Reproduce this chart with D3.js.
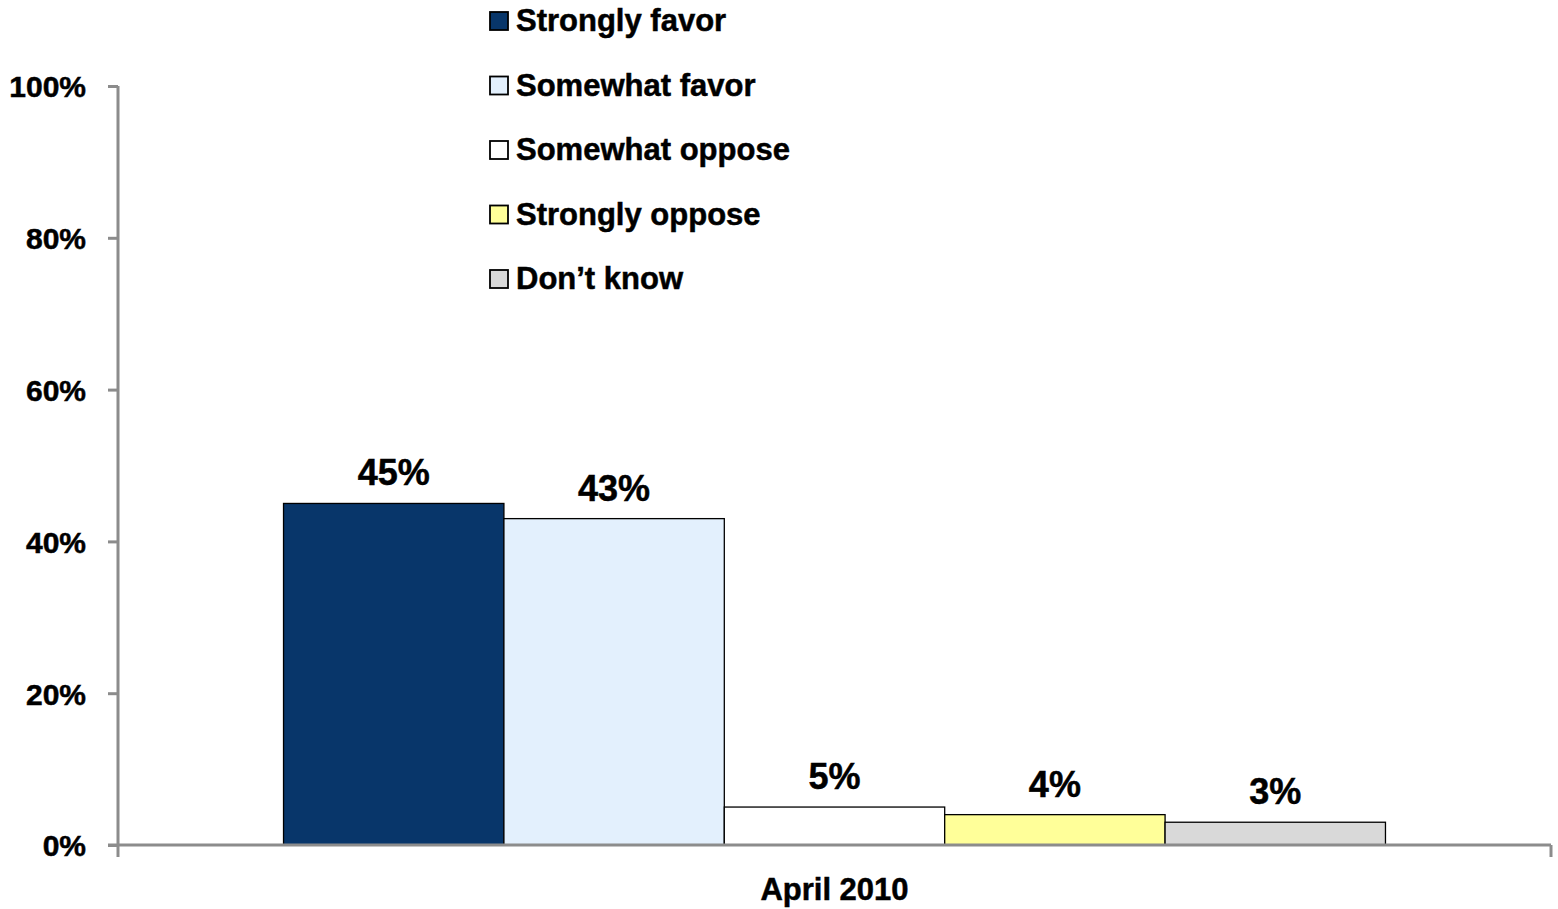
<!DOCTYPE html>
<html>
<head>
<meta charset="utf-8">
<script src="https://cdn.jsdelivr.net/npm/d3@7"></script>
<style>
  html, body { margin: 0; padding: 0; background: #ffffff; }
  svg { display: block; }
  text { font-family: "Liberation Sans", Arial, sans-serif; font-weight: bold; fill: #000; stroke: #000; stroke-width: 0.5px; }
</style>
</head>
<body>
<svg id="chart" width="1558" height="909"></svg>
<script>
// Survey responses, April 2010
const periods = ["April 2010"];
const responses = ["Strongly favor", "Somewhat favor", "Somewhat oppose", "Strongly oppose", "Don\u2019t know"];
const shares = [45, 43, 5, 4, 3];
const fills = ["#08366a", "#e3f0fd", "#ffffff", "#ffff99", "#d9d9d9"];
const yTicks = [0, 20, 40, 60, 80, 100];

const svg = d3.select("#chart");
const margin = { left: 118, right: 7, top: 86, bottom: 64 };
const width = 1558, height = 909;
const plotW = width - margin.left - margin.right;
const plotH = height - margin.top - margin.bottom;

const g = svg.append("g").attr("transform", `translate(${margin.left},${margin.top})`);

const y = d3.scaleLinear().domain([0, 100]).range([plotH, 0]);
const x0 = d3.scaleBand().domain(periods).range([0, plotW]).paddingInner(0.1306).paddingOuter(0.1306);
const x1 = d3.scaleBand().domain(responses).range([0, x0.bandwidth()]).padding(0);

const axisColor = "#8c8c8c";

// Bars
const group = g.selectAll("g.period").data(periods).join("g")
  .attr("class", "period")
  .attr("transform", d => `translate(${x0(d)},0)`);

const rows = responses.map((r, i) => ({ r, v: shares[i], c: fills[i] }));

group.selectAll("rect").data(rows).join("rect")
  .attr("x", d => x1(d.r))
  .attr("y", d => y(d.v))
  .attr("width", x1.bandwidth())
  .attr("height", d => plotH - y(d.v))
  .attr("fill", d => d.c)
  .attr("stroke", "#000")
  .attr("stroke-width", 1.3);

group.selectAll("text.val").data(rows).join("text")
  .attr("class", "val")
  .attr("x", d => x1(d.r) + x1.bandwidth() / 2)
  .attr("y", d => y(d.v) - 18)
  .attr("text-anchor", "middle")
  .style("font-size", "36px")
  .text(d => d.v + "%");

// Y axis
const yAxis = g.append("g").call(
  d3.axisLeft(y).tickValues(yTicks).tickFormat(d => d + "%").tickSize(10).tickPadding(22)
);
yAxis.select(".domain").attr("stroke", axisColor).attr("stroke-width", 3).attr("d", `M0,${plotH}V0`);
yAxis.selectAll(".tick line").attr("stroke", axisColor).attr("stroke-width", 3);
yAxis.selectAll(".tick text")
  .style("font-size", "30px")
  .style("font-family", "'Liberation Sans', Arial, sans-serif")
  .style("font-weight", "bold")
  .attr("fill", "#000")
  .attr("dy", "0.36em");

// X axis
const xAxis = g.append("g").attr("transform", `translate(0,${plotH})`);
xAxis.append("line")
  .attr("x1", -10).attr("x2", plotW)
  .attr("stroke", axisColor).attr("stroke-width", 3);
[0, plotW].forEach(px => {
  xAxis.append("line")
    .attr("x1", px).attr("x2", px).attr("y1", 0).attr("y2", 12)
    .attr("stroke", axisColor).attr("stroke-width", 3);
});
xAxis.selectAll("text.cat").data(periods).join("text")
  .attr("class", "cat")
  .attr("x", d => x0(d) + x0.bandwidth() / 2)
  .attr("y", 55)
  .attr("text-anchor", "middle")
  .style("font-size", "31px")
  .text(d => d);

// Legend
const legend = svg.append("g").attr("transform", "translate(490,12)");
const item = legend.selectAll("g").data(rows).join("g")
  .attr("transform", (d, i) => `translate(0,${i * 64.5})`);
item.append("rect")
  .attr("width", 18).attr("height", 18)
  .attr("fill", d => d.c)
  .attr("stroke", "#000").attr("stroke-width", 1.8);
item.append("text")
  .attr("x", 26).attr("y", 19)
  .style("font-size", "31px")
  .text(d => d.r);
</script>
</body>
</html>
